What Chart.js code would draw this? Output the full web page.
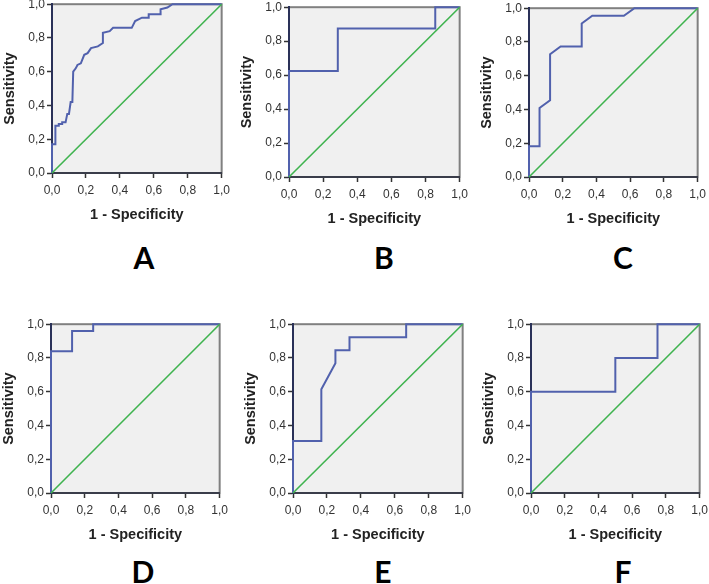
<!DOCTYPE html>
<html>
<head>
<meta charset="utf-8">
<script src="https://cdn.jsdelivr.net/npm/chart.js@4.4.1/dist/chart.umd.min.js"></script>
<style>
  body { margin: 0; background: #fff; }
  #wrap { position: relative; width: 709px; height: 584px; overflow: hidden; }
  #wrap canvas { position: absolute; }
  .letter { position: absolute; font-family: Lato, "Open Sans", sans-serif; font-weight: 700; font-size: 30px; line-height: 1; color: #000; transform: translate(-50%, -50%); }
</style>
</head>
<body>
<div id="wrap"></div>
<script>
// ROC points: false positive rate / sensitivity
const fprA = [0, 0, 0.02, 0.02, 0.04, 0.04, 0.06, 0.06, 0.08, 0.09, 0.10, 0.11, 0.12, 0.125, 0.14, 0.15, 0.17, 0.19, 0.21, 0.23, 0.27, 0.30, 0.30, 0.34, 0.36, 0.47, 0.49, 0.53, 0.57, 0.57, 0.64, 0.64, 0.68, 0.71, 1];
const tprA = [0, 0.17, 0.17, 0.28, 0.28, 0.29, 0.29, 0.30, 0.30, 0.35, 0.35, 0.42, 0.42, 0.60, 0.62, 0.64, 0.65, 0.70, 0.71, 0.74, 0.75, 0.77, 0.83, 0.84, 0.86, 0.86, 0.90, 0.92, 0.92, 0.94, 0.94, 0.97, 0.98, 1, 1];

const fprB = [0, 0, 0.286, 0.286, 0.857, 0.857, 1];
const tprB = [0, 0.625, 0.625, 0.875, 0.875, 1, 1];

const fprC = [0, 0, 0.0625, 0.0625, 0.125, 0.125, 0.1875, 0.3125, 0.3125, 0.375, 0.5625, 0.625, 1];
const tprC = [0, 0.182, 0.182, 0.409, 0.455, 0.727, 0.773, 0.773, 0.909, 0.955, 0.955, 1, 1];

const fprD = [0, 0, 0.125, 0.125, 0.25, 0.25, 1];
const tprD = [0, 0.84, 0.84, 0.96, 0.96, 1, 1];

const fprE = [0, 0, 0.167, 0.167, 0.25, 0.25, 0.333, 0.333, 0.667, 0.667, 1];
const tprE = [0, 0.308, 0.308, 0.615, 0.769, 0.846, 0.846, 0.923, 0.923, 1, 1];

const fprF = [0, 0, 0.5, 0.5, 0.75, 0.75, 1];
const tprF = [0, 0.6, 0.6, 0.8, 0.8, 1, 1];

const refX = [0, 1];
const refY = [0, 1];

const panelNames = ['A', 'B', 'C', 'D', 'E', 'F'];
const xTitle = '1 - Specificity';
const yTitle = 'Sensitivity';

// plot area boxes in page pixels: left, top, right, bottom
const boxes = [
  [52, 3, 223, 173], [289, 6, 461, 177], [529, 7, 699, 177],
  [51, 323, 221, 493], [293, 323, 464, 493], [531, 323, 701, 493]
];
const letterPos = [[144, 257], [384, 257], [623, 257], [143, 571], [383, 571], [623, 571]];
const curves = [[fprA, tprA], [fprB, tprB], [fprC, tprC], [fprD, tprD], [fprE, tprE], [fprF, tprF]];

const YW = 52, XH = 55, PT = 8, PR = 12;

const frame = {
  id: 'frame',
  beforeDraw(chart) {
    const { ctx, chartArea: a } = chart;
    ctx.save();
    ctx.fillStyle = '#f0f0f0';
    ctx.fillRect(a.left, a.top, a.width, a.height);
    ctx.strokeStyle = '#808080';
    ctx.lineWidth = 2;
    ctx.strokeRect(a.left, a.top, a.width, a.height);
    ctx.restore();
  }
};

function pts(xs, ys) {
  return xs.map((x, i) => ({ x: x, y: ys[i] }));
}

const fmt = v => Number(v).toFixed(1).replace('.', ',');
const tickFont = { family: 'Liberation Sans, Arial, sans-serif', size: 12 };
const titleFont = { family: 'Liberation Sans, Arial, sans-serif', size: 14.5, weight: 'bold' };

const wrap = document.getElementById('wrap');

boxes.forEach((b, i) => {
  const canvas = document.createElement('canvas');
  const w = (b[2] - b[0]) + YW + PR;
  const h = (b[3] - b[1]) + PT + XH;
  canvas.width = w;
  canvas.height = h;
  canvas.style.left = (b[0] - YW) + 'px';
  canvas.style.top = (b[1] - PT) + 'px';
  wrap.appendChild(canvas);

  new Chart(canvas.getContext('2d'), {
    type: 'scatter',
    data: {
      datasets: [
        {
          data: pts(refX, refY),
          showLine: true,
          borderColor: '#3fb34f',
          borderWidth: 1.6,
          pointRadius: 0,
          clip: 4
        },
        {
          data: pts(curves[i][0], curves[i][1]),
          showLine: true,
          borderColor: '#5161ad',
          borderWidth: 2,
          pointRadius: 0,
          clip: 4
        }
      ]
    },
    options: {
      responsive: false,
      animation: false,
      layout: { padding: { left: 0, top: PT, right: PR, bottom: 0 } },
      plugins: { legend: { display: false }, tooltip: { enabled: false } },
      scales: {
        x: {
          type: 'linear', min: 0, max: 1,
          afterFit(s) { s.height = XH; },
          border: { display: true, color: '#3a3d4a', width: 2 },
          grid: { drawOnChartArea: false, drawTicks: true, tickLength: 5, tickColor: '#333', tickWidth: 1.5 },
          ticks: { stepSize: 0.2, callback: fmt, color: '#333', font: tickFont, padding: 5, maxRotation: 0 },
          title: { display: true, text: xTitle, color: '#222', font: titleFont, padding: { top: 4, bottom: 4 } }
        },
        y: {
          type: 'linear', min: 0, max: 1,
          afterFit(s) { s.width = YW; },
          border: { display: true, color: '#2a3158', width: 2 },
          grid: { drawOnChartArea: false, drawTicks: true, tickLength: 5, tickColor: '#333', tickWidth: 1.5 },
          ticks: { stepSize: 0.2, callback: fmt, color: '#333', font: tickFont, padding: 2 },
          title: { display: true, text: yTitle, color: '#222', font: titleFont, padding: { top: 1, bottom: 2 } }
        }
      }
    },
    plugins: [frame]
  });

  const lab = document.createElement('div');
  lab.className = 'letter';
  lab.textContent = panelNames[i];
  lab.style.left = letterPos[i][0] + 'px';
  lab.style.top = letterPos[i][1] + 'px';
  wrap.appendChild(lab);
});
</script>
</body>
</html>
